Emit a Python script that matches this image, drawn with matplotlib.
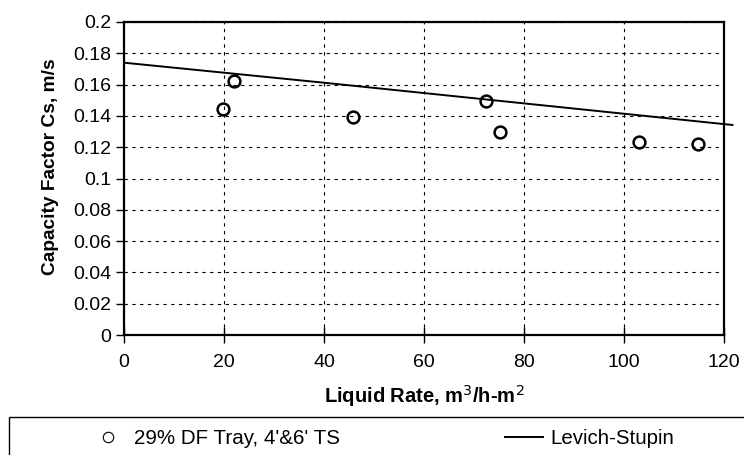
import matplotlib.pyplot as plt
from matplotlib.patches import Rectangle
from matplotlib.ticker import FuncFormatter

plt.rcParams['font.family'] = ['Liberation Sans', 'DejaVu Sans']

# tray data, 29% DF tray
liq_rate = [19.7, 22.0, 45.9, 72.5, 75.3, 103.1, 114.9]
cap_factor = [0.1445, 0.162, 0.1395, 0.1495, 0.130, 0.1232, 0.1220]

# Levich-Stupin correlation
ls_rate = [0, 40, 80, 121.7]
ls_cs = [0.174, 0.1612, 0.1480, 0.1342]

fig = plt.figure(figsize=(7.44, 4.55), dpi=100)
ax = fig.add_axes([124/744, 120/455, 600/744, 313/455])

ax.plot(liq_rate, cap_factor, 'o', ms=8.5, mfc='none', mec='black', mew=1.8,
        label="29% DF Tray, 4'&6' TS", zorder=3)
ax.plot(ls_rate, ls_cs, '-', color='black', lw=1.4, label='Levich-Stupin',
        clip_on=False, zorder=3)

ax.set_xlim(0, 120)
ax.set_ylim(0, 0.2)
ax.set_xticks(range(0, 121, 20))
ax.set_yticks([i * 0.02 for i in range(11)])
ax.yaxis.set_major_formatter(FuncFormatter(lambda v, p: '%g' % round(v, 2)))
ax.tick_params(direction='out', length=6, width=1, labelsize=14, pad=3)
ax.tick_params(axis='x', direction='inout', length=11, pad=8)
for s in ax.spines.values():
    s.set_linewidth(1.6)
ax.grid(True, color='black', lw=0.8, linestyle=(0, (3, 4)))

ax.set_xlabel('Liquid Rate, m$^3$/h-m$^2$', fontsize=14.5, fontweight='bold', labelpad=9)
ax.set_ylabel('Capacity Factor Cs, m/s', fontsize=13.8, fontweight='bold')
ax.yaxis.set_label_coords(-0.108, 0.538)

# legend box along the bottom
fig.patches.append(Rectangle((9/744, -0.05), 1.0, (455-417)/455 + 0.05,
                             transform=fig.transFigure, fill=False,
                             edgecolor='black', lw=1.0))
leg = fig.legend(loc='center left', bbox_to_anchor=(89/744, 1 - 439/455), ncol=2,
                 frameon=False, fontsize=14.8, borderpad=0, borderaxespad=0,
                 handlelength=1.85, handletextpad=0.36, columnspacing=8.0)
leg.legend_handles[0].set_markersize(7.5)
leg.legend_handles[0].set_markeredgewidth(0.8)

fig.savefig('out.png', dpi=100)
